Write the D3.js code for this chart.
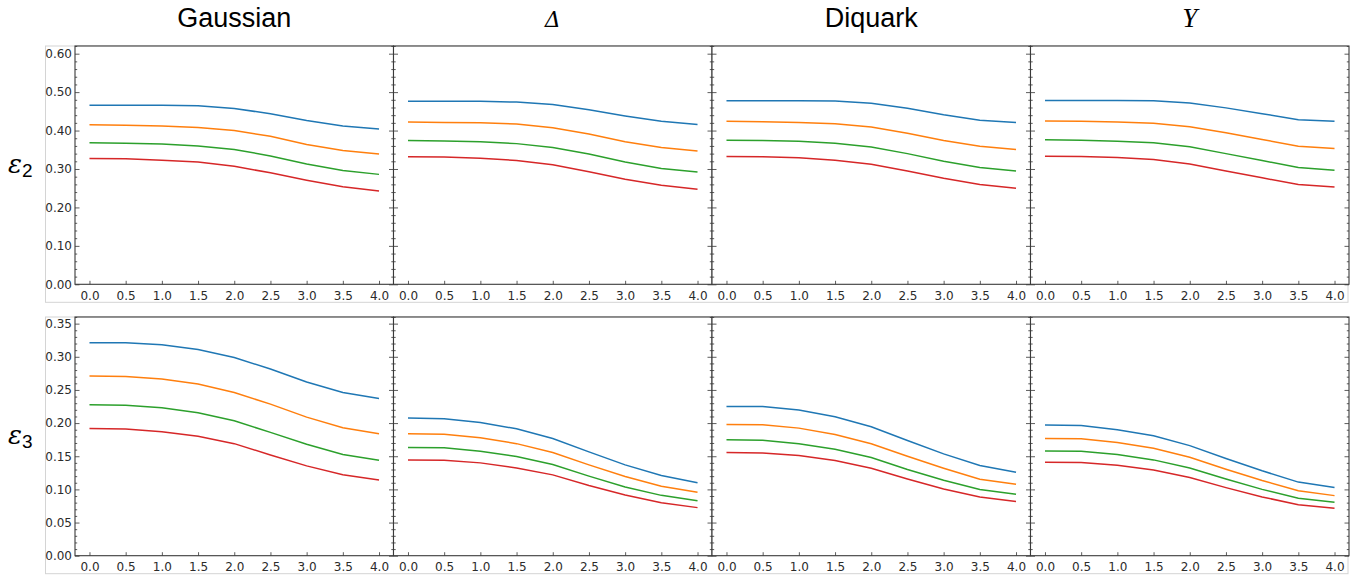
<!DOCTYPE html>
<html lang="en">
<head>
<meta charset="UTF-8">
<title>eps2 / eps3 vs x</title>
<script src="https://cdn.jsdelivr.net/npm/d3@7"></script>
<style>
    body { margin: 0; background: #fff; }
    svg { display: block; }
</style>
</head>
<body>
<svg id="main" width="1372" height="577"></svg>
<script>
    // x values shared by every curve
    const xValues = [0, 0.5, 1.0, 1.5, 2.0, 2.5, 3.0, 3.5, 4.0];
    const models = ['Gaussian', 'Δ', 'Diquark', 'Y'];
    const xTicks = [0, 0.5, 1.0, 1.5, 2.0, 2.5, 3.0, 3.5, 4.0];
    const yTicksEps2 = [0, 0.1, 0.2, 0.3, 0.4, 0.5, 0.6];
    const yTicksEps3 = [0, 0.05, 0.1, 0.15, 0.2, 0.25, 0.3, 0.35];

    // eps2, four curves per model (blue, orange, green, red)
    const eps2Gaussian = [
        [0.466, 0.466, 0.466, 0.4645, 0.4576, 0.4437, 0.426, 0.412, 0.404],
        [0.415, 0.414, 0.412, 0.408, 0.400, 0.385, 0.364, 0.348, 0.339],
        [0.368, 0.367, 0.365, 0.360, 0.351, 0.334, 0.313, 0.296, 0.286],
        [0.327, 0.3265, 0.323, 0.318, 0.307, 0.290, 0.271, 0.254, 0.243]
    ];
    const eps2Delta = [
        [0.476, 0.476, 0.476, 0.474, 0.468, 0.454, 0.438, 0.424, 0.416],
        [0.422, 0.421, 0.420, 0.417, 0.407, 0.391, 0.371, 0.356, 0.347],
        [0.374, 0.373, 0.371, 0.366, 0.356, 0.339, 0.318, 0.301, 0.292],
        [0.332, 0.331, 0.328, 0.322, 0.311, 0.293, 0.2735, 0.258, 0.247]
    ];
    const eps2Diquark = [
        [0.4775, 0.4775, 0.4775, 0.477, 0.471, 0.458, 0.441, 0.427, 0.421],
        [0.424, 0.423, 0.421, 0.418, 0.409, 0.393, 0.374, 0.359, 0.351],
        [0.375, 0.374, 0.372, 0.367, 0.357, 0.340, 0.320, 0.304, 0.295],
        [0.3325, 0.332, 0.329, 0.323, 0.3126, 0.295, 0.276, 0.2596, 0.250]
    ];
    const eps2Y = [
        [0.478, 0.478, 0.478, 0.4775, 0.472, 0.459, 0.444, 0.428, 0.424],
        [0.425, 0.424, 0.422, 0.419, 0.410, 0.394, 0.377, 0.359, 0.353],
        [0.376, 0.375, 0.372, 0.368, 0.358, 0.340, 0.322, 0.304, 0.297],
        [0.333, 0.3326, 0.330, 0.325, 0.313, 0.295, 0.277, 0.2596, 0.253]
    ];

    // eps3
    const eps3Gaussian = [
        [0.3213, 0.321, 0.318, 0.311, 0.299, 0.2815, 0.262, 0.246, 0.237],
        [0.271, 0.2704, 0.2665, 0.259, 0.246, 0.2286, 0.209, 0.193, 0.184],
        [0.2276, 0.227, 0.223, 0.2155, 0.2035, 0.186, 0.168, 0.1526, 0.144],
        [0.192, 0.191, 0.187, 0.180, 0.169, 0.152, 0.1355, 0.122, 0.114]
    ];
    const eps3Delta = [
        [0.2075, 0.2065, 0.201, 0.1914, 0.1768, 0.1566, 0.137, 0.1209, 0.110],
        [0.1838, 0.1833, 0.178, 0.169, 0.1556, 0.137, 0.1194, 0.1047, 0.0957],
        [0.163, 0.1627, 0.1576, 0.1496, 0.1375, 0.120, 0.1037, 0.091, 0.083],
        [0.1445, 0.144, 0.140, 0.1324, 0.1219, 0.106, 0.0917, 0.080, 0.0725]
    ];
    const eps3Diquark = [
        [0.225, 0.225, 0.2196, 0.2095, 0.1944, 0.1737, 0.1536, 0.136, 0.1259],
        [0.198, 0.1974, 0.1924, 0.1828, 0.1687, 0.150, 0.132, 0.1153, 0.1078],
        [0.1747, 0.1742, 0.169, 0.1606, 0.148, 0.130, 0.1138, 0.100, 0.0927],
        [0.1556, 0.155, 0.151, 0.1435, 0.132, 0.1158, 0.1007, 0.0886, 0.0816]
    ];
    const eps3Y = [
        [0.197, 0.1964, 0.190, 0.181, 0.166, 0.1465, 0.128, 0.111, 0.1027],
        [0.1768, 0.1763, 0.1707, 0.162, 0.1486, 0.1304, 0.1133, 0.098, 0.0906],
        [0.158, 0.1576, 0.1526, 0.1445, 0.1324, 0.1158, 0.100, 0.0866, 0.0806],
        [0.141, 0.1405, 0.1365, 0.1294, 0.1178, 0.1027, 0.0886, 0.077, 0.0715]
    ];

    const lineColors = ['#1f77b4', '#ff7f0e', '#2ca02c', '#d62728'];

    const rows = [
        {label: '2', top: 46, bottom: 284.3, yMax: 0.62, ticks: yTicksEps2, minorStep: 0.02,
            fmt: d3.format('.2f'), sets: [eps2Gaussian, eps2Delta, eps2Diquark, eps2Y]},
        {label: '3', top: 317, bottom: 555.7, yMax: 0.36, ticks: yTicksEps3, minorStep: 0.01,
            fmt: d3.format('.2f'), sets: [eps3Gaussian, eps3Delta, eps3Diquark, eps3Y]}
    ];

    let svg = d3.select('svg#main');
    let panelLeft = 75;
    let panelWidth = 318.5;
    let spineColor = '#3a3a3a';
    let tickColor = '#333';

    let x = d3.scaleLinear().domain([-0.2, 4.2]).range([0, panelWidth]);

    // column titles
    let titleStyles = [
        {family: '"Liberation Sans", Arial, sans-serif', style: 'normal', size: 27},
        {family: '"DejaVu Serif", serif', style: 'italic', size: 22},
        {family: '"Liberation Sans", Arial, sans-serif', style: 'normal', size: 27},
        {family: '"Liberation Serif", serif', style: 'italic', size: 27}
    ];
    models.forEach((m, i) => {
        svg.append('text')
            .attr('x', panelLeft + i * panelWidth + panelWidth / 2)
            .attr('y', 27)
            .attr('text-anchor', 'middle')
            .style('font-family', titleStyles[i].family)
            .style('font-style', titleStyles[i].style)
            .style('font-size', titleStyles[i].size + 'px')
            .text(m);
    });

    rows.forEach(row => {
        let h = row.bottom - row.top;
        let y = d3.scaleLinear().domain([0, row.yMax]).range([h, 0]);
        let minorTicks = d3.range(0, row.yMax + 1e-9, row.minorStep)
            .filter(v => !row.ticks.some(t => Math.abs(t - v) < 1e-6));

        // light frame around the row
        svg.append('rect')
            .attr('x', 45.5).attr('y', row.top)
            .attr('width', 1348 - 45.5).attr('height', row.bottom - row.top + 18)
            .attr('fill', 'none')
            .attr('stroke', '#d4d4d4')
            .attr('stroke-width', 1);

        // row label
        let lab = svg.append('text')
            .attr('x', 8)
            .attr('y', row.top + h / 2 + 8)
            .style('font-family', '"DejaVu Serif", serif')
            .style('font-style', 'italic')
            .style('font-size', '26px');
        lab.append('tspan').text('ε');
        lab.append('tspan')
            .attr('dy', 4)
            .style('font-family', '"Liberation Sans", Arial, sans-serif')
            .style('font-style', 'normal')
            .style('font-size', '19px')
            .text(row.label);

        row.sets.forEach((set, i) => {
            let g = svg.append('g')
                .attr('transform', 'translate(' + (panelLeft + i * panelWidth) + ',' + row.top + ')');

            g.append('rect')
                .attr('width', panelWidth).attr('height', h)
                .attr('fill', '#fff');

            let line = d3.line()
                .x((d, j) => x(xValues[j]))
                .y(d => y(d));

            g.selectAll('path.curve')
                .data(set)
                .enter()
                .append('path')
                .attr('class', 'curve')
                .attr('d', line)
                .attr('fill', 'none')
                .attr('stroke', (d, k) => lineColors[k])
                .attr('stroke-width', 1.5);

            // minor y ticks, left and right
            g.append('g').call(d3.axisLeft(y).tickValues(minorTicks).tickSize(-2.2).tickFormat(''));
            g.append('g').attr('transform', 'translate(' + panelWidth + ',0)')
                .call(d3.axisRight(y).tickValues(minorTicks).tickSize(-2.2).tickFormat(''));

            // major y ticks
            g.append('g').call(d3.axisLeft(y).tickValues(row.ticks).tickSize(-4.5).tickPadding(3)
                .tickFormat(i === 0 ? row.fmt : ''));
            g.append('g').attr('transform', 'translate(' + panelWidth + ',0)')
                .call(d3.axisRight(y).tickValues(row.ticks).tickSize(-4.5).tickFormat(''));

            // x ticks
            g.append('g').attr('transform', 'translate(0,' + h + ')')
                .call(d3.axisBottom(x).tickValues(xTicks).tickSize(-3.5).tickPadding(7)
                    .tickFormat(d3.format('.1f')));

            g.selectAll('.domain').remove();
            g.selectAll('.tick line').attr('stroke', tickColor).attr('stroke-width', 0.8);
            g.selectAll('.tick text')
                .attr('fill', '#2b2b2b')
                .style('font-family', '"DejaVu Sans", sans-serif')
                .style('font-size', '12px');

            g.append('rect')
                .attr('width', panelWidth).attr('height', h)
                .attr('fill', 'none')
                .attr('stroke', spineColor)
                .attr('stroke-width', 1.1);
        });
    });
</script>
</body>
</html>
